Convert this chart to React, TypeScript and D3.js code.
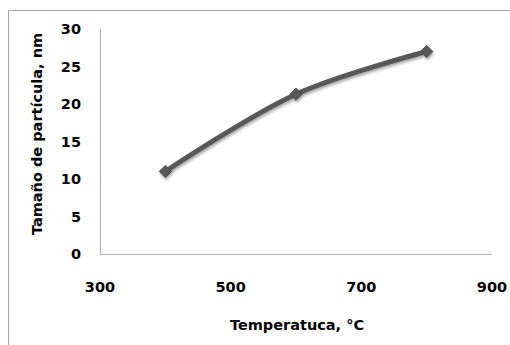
import React from 'react';
import * as d3 from 'd3';

// chart data
const temps = [400, 600, 800];
const sizes = [11, 21.3, 27];
const xTicks = [300, 500, 700, 900];
const yTicks = [0, 5, 10, 15, 20, 25, 30];

const W = 510;
const H = 345;
const margin = { top: 29, right: 18, bottom: 91, left: 100 };
const innerW = W - margin.left - margin.right;
const innerH = H - margin.top - margin.bottom;

const font = '"DejaVu Sans", Verdana, sans-serif';

export default function App() {
  const x = d3.scaleLinear().domain([300, 900]).range([0, innerW]);
  const y = d3.scaleLinear().domain([0, 30]).range([innerH, 0]);

  const line = d3
    .line<number>()
    .x((d, i) => x(temps[i]))
    .y(d => y(d))
    .curve(d3.curveCatmullRom.alpha(0.5));

  const path = line(sizes) || '';
  const diamond = d3.symbol().type(d3.symbolDiamond2).size(95)() || '';

  return (
    <svg
      width={W}
      height={H}
      style={{ position: 'absolute', left: 0, top: 0, background: '#fff' }}
    >
      <defs>
        <filter id="shadow" x="-50%" y="-50%" width="200%" height="200%">
          <feGaussianBlur in="SourceAlpha" stdDeviation="1.5" />
          <feOffset dx="1" dy="2" result="b" />
          <feComponentTransfer>
            <feFuncA type="linear" slope="0.35" />
          </feComponentTransfer>
          <feMerge>
            <feMergeNode />
            <feMergeNode in="SourceGraphic" />
          </feMerge>
        </filter>
      </defs>

      {/* outer chart border, only top and left show */}
      <rect x={8.5} y={10.5} width={W + 10} height={H + 10} fill="none" stroke="#a6a6a6" strokeWidth={1} />

      <g transform={`translate(${margin.left},${margin.top})`}>
        {/* axis lines */}
        <line x1={0.5} x2={0.5} y1={0} y2={innerH} stroke="#b0b0b0" />
        <line x1={0} x2={innerW} y1={innerH + 0.5} y2={innerH + 0.5} stroke="#b0b0b0" />

        {yTicks.map(t => (
          <text
            key={t}
            x={-19}
            y={y(t)}
            dy="0.35em"
            textAnchor="end"
            fontFamily={font}
            fontWeight="bold"
            fontSize={14.5}
            fill="#000"
          >
            {t}
          </text>
        ))}

        {xTicks.map(t => (
          <text
            key={t}
            x={x(t)}
            y={innerH + 33}
            dy="0.35em"
            textAnchor="middle"
            fontFamily={font}
            fontWeight="bold"
            fontSize={14.5}
            fill="#000"
          >
            {t}
          </text>
        ))}

        <g filter="url(#shadow)">
          <path d={path} fill="none" stroke="#595959" strokeWidth={5} strokeLinecap="round" />
          {sizes.map((d, i) => (
            <path
              key={i}
              d={diamond}
              transform={`translate(${x(temps[i])},${y(d)})`}
              fill="#595959"
              stroke="#4a4a4a"
              strokeWidth={1}
            />
          ))}
        </g>
      </g>

      <text
        x={297}
        y={325}
        dy="0.35em"
        textAnchor="middle"
        fontFamily={font}
        fontWeight="bold"
        fontSize={14.5}
        fill="#000"
      >
        Temperatuca, °C
      </text>

      <text
        transform={`translate(37,134) rotate(-90)`}
        dy="0.35em"
        textAnchor="middle"
        fontFamily={font}
        fontWeight="bold"
        fontSize={14.5}
        fill="#000"
      >
        Tamaño de partícula, nm
      </text>
    </svg>
  );
}
